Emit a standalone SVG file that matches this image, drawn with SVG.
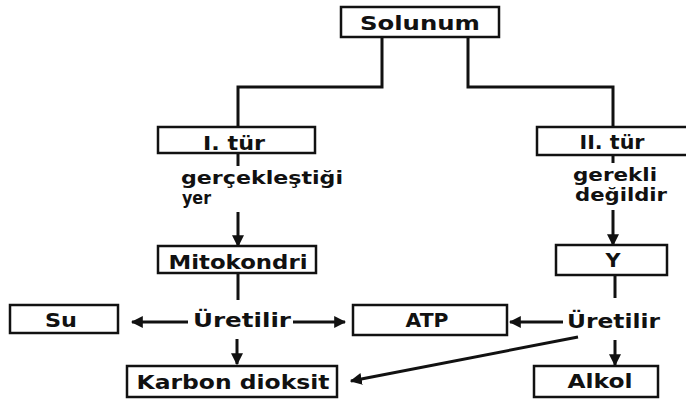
<svg xmlns="http://www.w3.org/2000/svg" width="686" height="400" viewBox="0 0 686 400">
<defs>
<marker id="ah" viewBox="0 0 10 10" refX="9" refY="5" markerWidth="12" markerHeight="12" markerUnits="userSpaceOnUse" orient="auto">
<path d="M0,0 L10,5 L0,10 z" fill="#111"/>
</marker>
<style>
.box{fill:#fff;stroke:#111;stroke-width:2.5}
.t{font-family:"DejaVu Sans","Liberation Sans",sans-serif;font-weight:bold;font-size:19px;fill:#111}
.s{font-size:17px}
.c{text-anchor:middle}
.ln{fill:none;stroke:#111;stroke-width:3}
.ar{fill:none;stroke:#111;stroke-width:3;marker-end:url(#ah)}
</style>
</defs>
<rect width="686" height="400" fill="#fff"/>
<g id="connectors">
<polyline class="ln" points="382,37 382,87 238,87 238,127"/>
<polyline class="ln" points="468,37 468,87 613,87 613,127"/>
<line class="ln" x1="238" y1="153" x2="238" y2="166"/>
<line class="ar" x1="238" y1="212" x2="238" y2="246"/>
<line class="ln" x1="613" y1="155" x2="613" y2="163"/>
<line class="ar" x1="613" y1="210" x2="613" y2="245"/>
<line class="ln" x1="238" y1="273" x2="238" y2="300"/>
<line class="ln" x1="615" y1="275" x2="615" y2="298"/>
<line class="ar" x1="188" y1="322" x2="132" y2="322"/>
<line class="ar" x1="293" y1="322" x2="345" y2="322"/>
<line class="ar" x1="237" y1="339" x2="237" y2="364"/>
<line class="ar" x1="563" y1="322" x2="510" y2="322"/>
<line class="ar" x1="615" y1="340" x2="615" y2="365"/>
<line class="ar" x1="578" y1="337" x2="351" y2="381"/>
<text class="t s" x="181" y="184" textLength="162" lengthAdjust="spacingAndGlyphs">gerçekleştiği</text>
<text class="t s" x="182" y="204" textLength="29" lengthAdjust="spacingAndGlyphs">yer</text>
<text class="t s" x="573" y="181" textLength="84" lengthAdjust="spacingAndGlyphs">gerekli</text>
<text class="t s" x="575" y="201" textLength="92" lengthAdjust="spacingAndGlyphs">değildir</text>
<text class="t" x="193" y="327" textLength="98" lengthAdjust="spacingAndGlyphs">Üretilir</text>
<text class="t" x="567" y="328" textLength="93" lengthAdjust="spacingAndGlyphs">Üretilir</text>
</g>
<g id="solunum">
<rect class="box" x="341" y="7" width="158" height="30"/>
<text class="t c" x="420" y="30" textLength="120" lengthAdjust="spacingAndGlyphs">Solunum</text>
</g>
<g id="tur1">
<rect class="box" x="158" y="127" width="157" height="26"/>
<text class="t c" x="234" y="150" textLength="62" lengthAdjust="spacingAndGlyphs">I. tür</text>
</g>
<g id="tur2">
<rect class="box" x="537" y="127" width="152" height="28"/>
<text class="t c" x="612" y="149" textLength="65" lengthAdjust="spacingAndGlyphs">II. tür</text>
</g>
<g id="mitokondri">
<rect class="box" x="158" y="246" width="158" height="27"/>
<text class="t c" x="238" y="269" textLength="139" lengthAdjust="spacingAndGlyphs">Mitokondri</text>
</g>
<g id="y">
<rect class="box" x="556" y="245" width="111" height="30"/>
<text class="t c" x="613" y="267" textLength="15" lengthAdjust="spacingAndGlyphs">Y</text>
</g>
<g id="su">
<rect class="box" x="10" y="305" width="108" height="28"/>
<text class="t c" x="61" y="327" textLength="32" lengthAdjust="spacingAndGlyphs">Su</text>
</g>
<g id="atp">
<rect class="box" x="353" y="305" width="154" height="30"/>
<text class="t c" x="427" y="327" textLength="43" lengthAdjust="spacingAndGlyphs">ATP</text>
</g>
<g id="karbon">
<rect class="box" x="127" y="366" width="210" height="31"/>
<text class="t c" x="233" y="389" textLength="193" lengthAdjust="spacingAndGlyphs">Karbon dioksit</text>
</g>
<g id="alkol">
<rect class="box" x="534" y="366" width="124" height="31"/>
<text class="t c" x="600" y="388" textLength="65" lengthAdjust="spacingAndGlyphs">Alkol</text>
</g>
</svg>
